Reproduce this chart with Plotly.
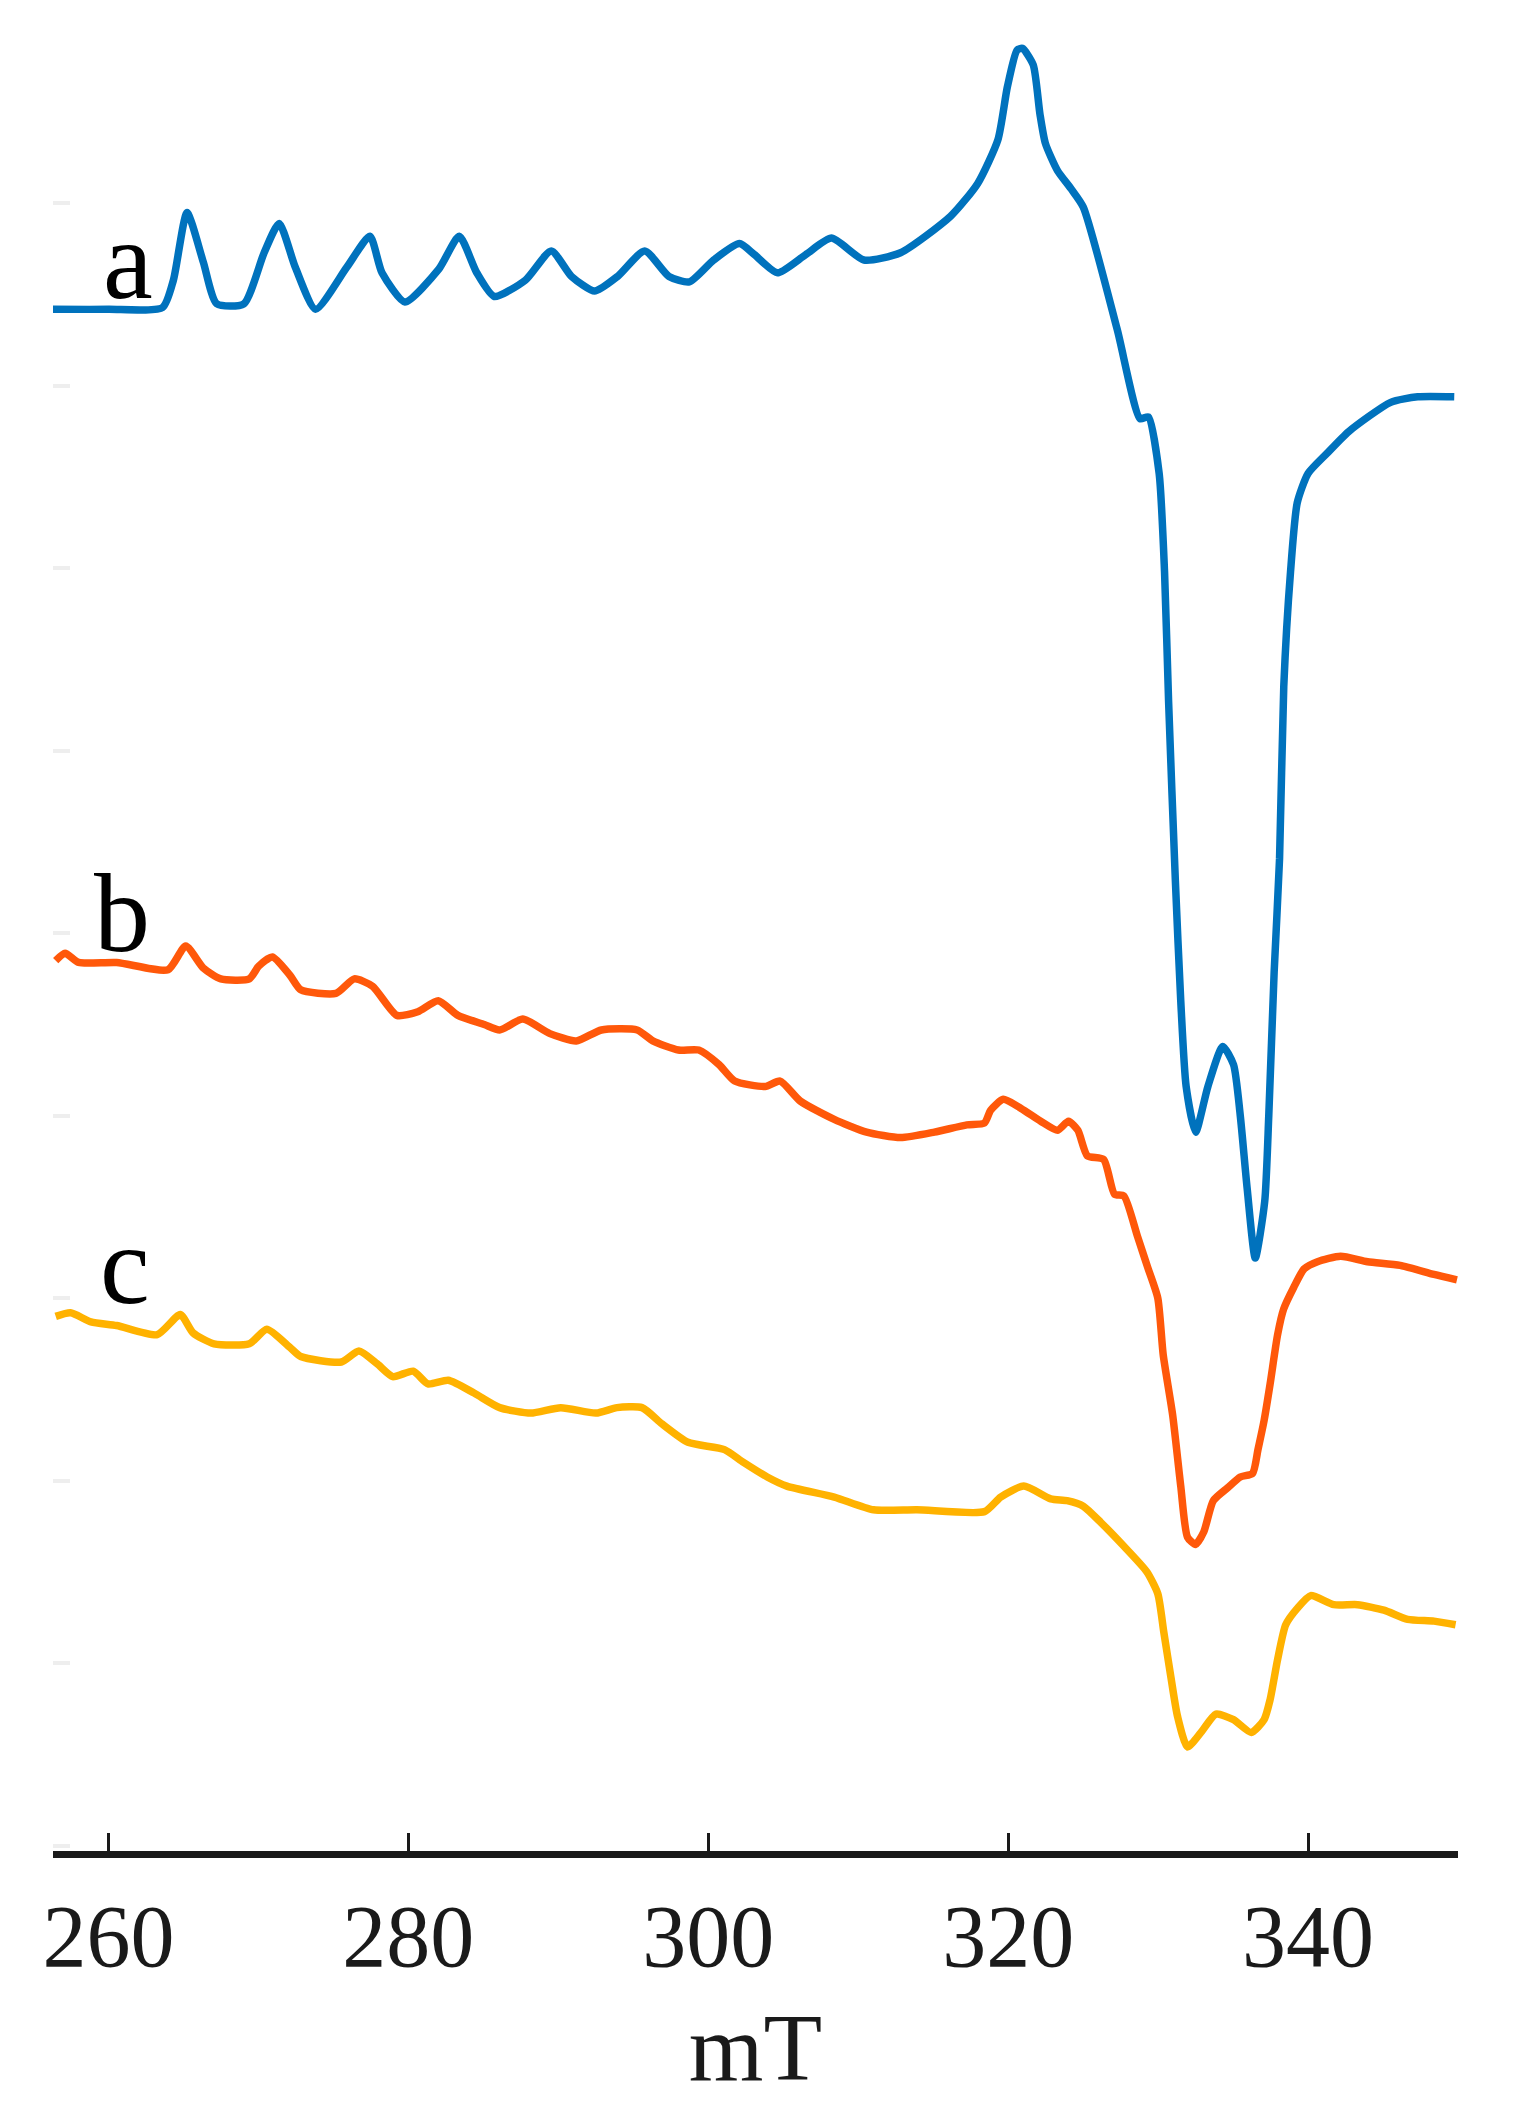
import plotly.graph_objects as go

# ---- data (field in mT, intensity in arbitrary offset units) ----
a_x = [256.30, 260.0, 263.61, 264.33, 265.24, 266.32, 267.22, 269.03, 270.38, 271.38, 272.46, 273.81,
       275.89, 277.43, 278.24, 279.77, 282.03, 283.39, 284.56, 285.73, 287.81, 289.53, 290.88, 292.42,
       293.95, 295.76, 297.38, 298.74, 300.36, 302.08, 303.07, 304.61, 306.50, 308.22, 310.38, 312.82,
       316.16, 317.97, 319.32, 319.95, 320.59, 320.95, 321.67, 322.12, 322.48, 323.29, 324.20, 325.01,
       327.27, 328.80, 329.35, 330.07, 330.43, 330.70, 331.15, 331.51, 331.87, 332.50, 333.32, 334.31,
       335.03, 335.48, 335.94, 336.48, 337.11, 337.38, 337.74, 338.10, 338.38, 338.83, 339.28, 340.00,
       341.26, 342.71, 345.51, 347.31, 349.75]
a_y = [8.42, 8.42, 8.43, 8.58, 8.95, 8.68, 8.45, 8.45, 8.73, 8.89, 8.65, 8.42,
       8.65, 8.82, 8.62, 8.46, 8.64, 8.82, 8.62, 8.49, 8.58, 8.74, 8.60, 8.52,
       8.60, 8.74, 8.60, 8.57, 8.69, 8.78, 8.72, 8.62, 8.72, 8.81, 8.69, 8.73,
       8.93, 9.11, 9.35, 9.64, 9.84, 9.85, 9.76, 9.49, 9.33, 9.18, 9.08, 8.98,
       8.31, 7.82, 7.83, 7.52, 6.98, 6.27, 5.29, 4.63, 4.16, 3.91, 4.16, 4.38,
       4.28, 4.00, 3.60, 3.22, 3.53, 4.00, 4.79, 5.41, 6.35, 6.98, 7.36, 7.52,
       7.63, 7.75, 7.91, 7.94, 7.94]

b_x = [256.48, 257.11, 258.01, 260.54, 263.97, 265.15, 266.32, 267.49, 269.39, 270.02, 270.93, 272.10,
       272.82, 275.17, 276.39, 277.61, 279.23, 280.63, 281.99, 283.30, 285.06, 286.09, 287.63, 289.44,
       291.20, 292.87, 295.26, 296.30, 298.01, 299.37, 300.72, 301.76, 303.79, 304.79, 306.14, 308.40,
       310.56, 312.82, 315.08, 317.25, 318.42, 318.83, 319.68, 320.86, 322.17, 323.30, 324.02, 324.65,
       325.28, 326.37, 327.09, 327.72, 328.62, 329.30, 329.98, 330.34, 330.97, 331.51, 331.96, 332.50,
       333.05, 333.68, 334.63, 335.48, 336.30, 336.66, 337.07, 337.47, 337.97, 338.37, 339.05, 339.73,
       340.63, 342.17, 343.97, 346.14, 348.40, 349.93]
b_y = [4.85, 4.89, 4.84, 4.84, 4.80, 4.93, 4.81, 4.75, 4.75, 4.82, 4.87, 4.77,
       4.69, 4.67, 4.75, 4.71, 4.55, 4.57, 4.63, 4.55, 4.50, 4.47, 4.53, 4.45,
       4.41, 4.47, 4.47, 4.41, 4.36, 4.36, 4.28, 4.19, 4.16, 4.19, 4.08, 3.98,
       3.91, 3.88, 3.91, 3.95, 3.96, 4.03, 4.09, 4.04, 3.97, 3.92, 3.97, 3.92,
       3.78, 3.76, 3.57, 3.56, 3.34, 3.17, 3.00, 2.69, 2.36, 1.97, 1.69, 1.65,
       1.72, 1.89, 1.96, 2.02, 2.04, 2.17, 2.33, 2.53, 2.80, 2.94, 3.06, 3.16,
       3.20, 3.23, 3.20, 3.18, 3.13, 3.10]

c_x = [256.48, 257.47, 258.83, 260.54, 263.25, 264.79, 265.64, 267.04, 269.39, 270.56, 272.10, 272.82,
       275.53, 276.70, 277.92, 278.96, 280.32, 281.31, 282.66, 284.38, 286.09, 288.17, 290.16, 292.51,
       293.91, 295.58, 296.93, 298.65, 301.08, 302.35, 303.93, 305.24, 308.40, 311.02, 313.91, 318.42,
       319.50, 321.04, 322.84, 323.93, 325.01, 326.19, 327.72, 329.25, 329.98, 330.38, 330.84, 331.29,
       331.96, 332.86, 333.86, 335.03, 336.21, 337.07, 337.47, 337.97, 338.51, 339.28, 340.18, 341.72,
       343.30, 345.06, 346.64, 348.40, 349.84]
c_y = [2.90, 2.92, 2.87, 2.85, 2.80, 2.91, 2.81, 2.75, 2.75, 2.83, 2.73, 2.68,
       2.65, 2.71, 2.64, 2.57, 2.60, 2.53, 2.55, 2.48, 2.40, 2.37, 2.40, 2.37,
       2.40, 2.40, 2.31, 2.21, 2.17, 2.10, 2.02, 1.97, 1.91, 1.84, 1.84, 1.83,
       1.91, 1.97, 1.90, 1.89, 1.86, 1.77, 1.64, 1.50, 1.38, 1.17, 0.93, 0.71,
       0.54, 0.62, 0.72, 0.69, 0.62, 0.69, 0.80, 1.02, 1.21, 1.30, 1.37, 1.32,
       1.32, 1.29, 1.24, 1.23, 1.21]

x_ticks = [260, 280, 300, 320, 340]
y_ticks = [0, 1, 2, 3, 4, 5, 6, 7, 8, 9]

labels = ["a", "b", "c"]
label_x = [261.3, 260.9, 261.1]
label_y = [8.34, 4.76, 2.83]

colors = ["#0072BD", "#FF580A", "#FFB200"]

fig = go.Figure()
for xs, ys, col in [(a_x, a_y, colors[0]), (b_x, b_y, colors[1]), (c_x, c_y, colors[2])]:
    fig.add_trace(go.Scatter(x=xs, y=ys, mode="lines",
                             line=dict(color=col, width=7.5, shape="spline", smoothing=0.6),
                             showlegend=False))

for t, lx, ly in zip(labels, label_x, label_y):
    fig.add_annotation(x=lx, y=ly, text=t, showarrow=False, xanchor="center", yanchor="bottom",
                       font=dict(family="Liberation Serif", size=112, color="black"))

fig.update_layout(
    width=1529, height=2122,
    margin=dict(l=45, r=79, t=13, b=279),
    paper_bgcolor="white", plot_bgcolor="white",
    font=dict(family="Liberation Serif", color="black"),
)
fig.update_xaxes(range=[256.3, 350.0], tickvals=x_ticks, ticktext=[str(v) for v in x_ticks],
                 ticks="inside", ticklen=18, tickwidth=3, tickcolor="#1a1a1a",
                 showline=True, linewidth=7, linecolor="#1a1a1a",
                 showgrid=False, zeroline=False,
                 tickfont=dict(family="Liberation Serif", size=88, color="#1a1a1a"),
                 ticklabelstandoff=2,
                 title=dict(text="mT", font=dict(family="Liberation Serif", size=96, color="#1a1a1a"),
                            standoff=32))
fig.update_yaxes(range=[-0.03, 10.0], tickvals=y_ticks, showticklabels=False,
                 ticks="inside", ticklen=17, tickwidth=4, tickcolor="#EEEEEE",
                 showline=False, showgrid=False, zeroline=False)

fig.write_html("out.html")
